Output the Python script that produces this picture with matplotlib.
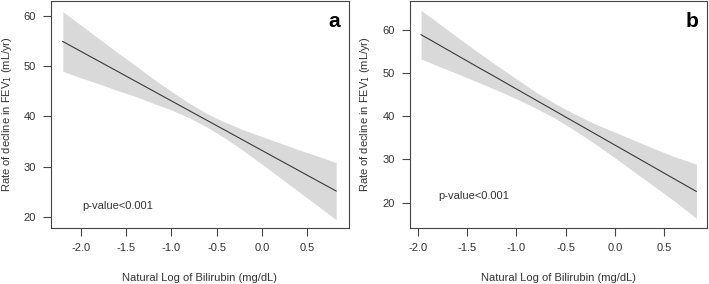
import matplotlib
matplotlib.use('Agg')
import matplotlib.pyplot as plt

plt.rcParams['font.family'] = ['Liberation Sans', 'DejaVu Sans']

# panel a: fitted line and confidence band
xa = [-2.2, -2.0, -1.8, -1.6, -1.4, -1.2, -1.0, -0.8, -0.6, -0.4, -0.2, 0.0, 0.2, 0.4, 0.6, 0.82]
fit_a = [54.95, 52.97, 51.0, 49.03, 47.05, 45.08, 43.1, 41.13, 39.15, 37.18, 35.2, 33.23,
         31.25, 29.28, 27.3, 25.13]
upper_a = [60.9, 58.2, 55.5, 52.8, 50.2, 47.5, 45.0, 42.6, 40.5, 38.8, 37.3, 36.0,
           34.7, 33.4, 32.2, 30.8]
lower_a = [49.0, 47.7, 46.5, 45.2, 44.0, 42.6, 41.3, 39.7, 37.8, 35.6, 33.1, 30.5,
           27.8, 25.1, 22.4, 19.4]

# panel b
xb = [-1.97, -1.8, -1.6, -1.4, -1.2, -1.0, -0.8, -0.6, -0.4, -0.2, 0.0, 0.2, 0.4, 0.6, 0.83]
fit_b = [58.8, 56.6, 54.0, 51.4, 48.85, 46.26, 43.67, 41.09, 38.5, 35.92, 33.33, 30.75,
         28.16, 25.57, 22.6]
upper_b = [64.4, 61.6, 58.2, 54.9, 51.7, 48.6, 45.5, 42.8, 40.4, 38.2, 36.3, 34.4,
           32.5, 30.7, 28.9]
lower_b = [53.2, 51.6, 49.8, 47.9, 46.0, 44.0, 41.8, 39.4, 36.6, 33.6, 30.4, 27.1,
           23.8, 20.5, 16.4]

xticks = [-2.0, -1.5, -1.0, -0.5, 0.0, 0.5]
yticks = [20, 30, 40, 50, 60]

fig = plt.figure(figsize=(7.09, 2.84), dpi=100)
ax1 = fig.add_axes([0.072, 0.197, 0.420, 0.800])
ax2 = fig.add_axes([0.578, 0.197, 0.419, 0.799])

panels = [
    (ax1, xa, fit_a, upper_a, lower_a, 'a', (-2.33, 0.96), (17.75, 63.05), (-1.98, 22.1)),
    (ax2, xb, fit_b, upper_b, lower_b, 'b', (-2.085, 0.937), (14.15, 66.55), (-1.80, 21.6)),
]

for ax, x, fit, up, lo, tag, xl, yl, ptxt in panels:
    ax.fill_between(x, lo, up, color='#d9d9d9', linewidth=0)
    ax.plot(x, fit, color='#3a3a3a', linewidth=0.8)
    ax.set_xlim(*xl)
    ax.set_ylim(*yl)
    ax.set_xticks(xticks)
    ax.set_xticklabels(['%.1f' % t for t in xticks])
    ax.set_yticks(yticks)
    for s in ax.spines.values():
        s.set_color('#444444')
        s.set_linewidth(0.8)
    ax.tick_params(direction='out', length=6, width=0.8, color='#444444',
                   labelsize=8, labelcolor='#333333', pad=5)
    ax.set_xlabel('Natural Log of Bilirubin (mg/dL)', fontsize=8, color='#333333', labelpad=14)
    ax.set_ylabel('Rate of decline in FEV$_1$ (mL/yr)', fontsize=8, color='#333333', labelpad=7)
    ax.text(ptxt[0], ptxt[1], 'p-value<0.001', fontsize=8, color='#333333',
            ha='left', va='center')
    ax.text(0.97, 0.95, tag, transform=ax.transAxes, fontsize=15, fontweight='bold',
            ha='right', va='top', color='black')

fig.savefig('out.png', dpi=100)
